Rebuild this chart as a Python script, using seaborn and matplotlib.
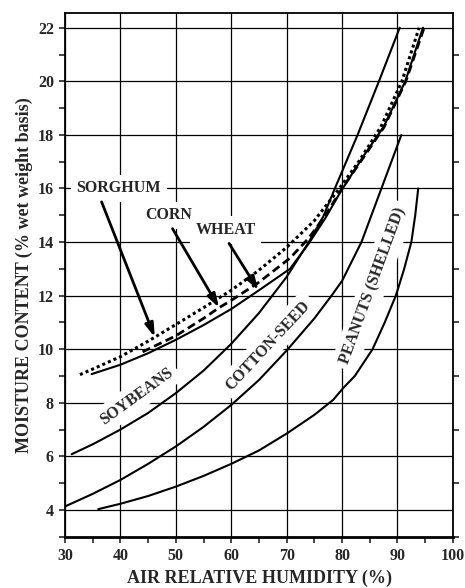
import numpy as np
import pandas as pd
import seaborn as sns
import matplotlib.pyplot as plt
from matplotlib.ticker import MultipleLocator

# ---- data ----
sorghum_rh = [32.7, 36, 40, 45, 50, 55, 60, 65, 70, 75, 79.5, 83, 87, 90.8, 93.9]
sorghum_mc = [9.05, 9.35, 9.72, 10.3, 10.92, 11.55, 12.2, 12.95, 13.8, 14.8, 16.0, 17.0, 18.3, 20.0, 22.0]

corn_rh = [44, 50, 55, 57.8, 60, 65, 70.6, 74, 77, 80, 84, 87.6, 91.5, 94.8]
corn_mc = [9.9, 10.5, 11.15, 11.55, 11.82, 12.5, 13.4, 14.15, 15.0, 16.0, 17.2, 18.3, 20.0, 22.0]

wheat_rh = [34.8, 40, 45, 50, 55, 60, 65, 70.6, 74, 77, 79.8, 84, 87.5, 91.4, 94.6]
wheat_mc = [9.07, 9.42, 9.85, 10.35, 10.9, 11.5, 12.2, 13.0, 13.95, 14.9, 15.9, 17.25, 18.3, 20.0, 22.0]

soy_rh = [31.2, 35, 40, 45, 50, 55, 60, 65, 70, 74, 76.6, 78.7, 82.8, 86.65, 90.4]
soy_mc = [6.08, 6.45, 7.0, 7.62, 8.36, 9.2, 10.2, 11.35, 12.7, 14.0, 14.95, 16.0, 18.0, 20.0, 22.0]

cotton_rh = [30, 35, 40, 45, 50, 55, 60, 65, 70, 75, 78.1, 80, 83.5, 87.1, 90.7]
cotton_mc = [4.13, 4.6, 5.12, 5.72, 6.37, 7.1, 7.92, 8.85, 9.95, 11.15, 12.0, 12.55, 14.0, 16.0, 18.0]

peanut_rh = [36, 40, 45, 50, 55, 60, 65, 70, 75, 78.4, 80.2, 82.3, 85.5, 87.7, 89.7, 91.15, 92.5, 93.2, 93.74]
peanut_mc = [4.03, 4.23, 4.52, 4.87, 5.27, 5.72, 6.22, 6.85, 7.55, 8.11, 8.55, 9.0, 10.0, 11.0, 12.0, 12.96, 14.0, 15.0, 16.0]

x_ticks = [30, 40, 50, 60, 70, 80, 90, 100]
y_ticks = [4, 6, 8, 10, 12, 14, 16, 18, 20, 22]

sns.set_style("white")
plt.rcParams['font.family'] = ['Liberation Serif', 'DejaVu Serif']
plt.rcParams['font.weight'] = 'bold'
plt.rcParams['font.size'] = 11.5

fig = plt.figure(figsize=(4.65, 5.88), dpi=100)
ax = fig.add_axes([0.1398, 0.0872, 0.8342, 0.8907])

series = [
    (sorghum_rh, sorghum_mc, (0, (1, 1)), 2.2),
    (corn_rh, corn_mc, (0, (3, 1.6)), 2.0),
    (wheat_rh, wheat_mc, '-', 1.5),
    (soy_rh, soy_mc, '-', 1.5),
    (cotton_rh, cotton_mc, '-', 1.5),
    (peanut_rh, peanut_mc, '-', 1.5),
]
for xs, ys, ls, lw in series:
    df = pd.DataFrame({'rh': xs, 'mc': ys})
    sns.lineplot(data=df, x='rh', y='mc', ax=ax, color='black', lw=lw,
                 sort=False, estimator=None)
    ax.lines[-1].set_linestyle(ls)
    ax.lines[-1].set_zorder(5)
    ax.lines[-1].set_solid_joinstyle('round')

ax.set_xlim(30, 100)
ax.set_ylim(3, 22.55)
ax.set_xticks(x_ticks)
ax.set_yticks(y_ticks)
ax.xaxis.set_minor_locator(MultipleLocator(5))
ax.yaxis.set_minor_locator(MultipleLocator(1))
ax.grid(True, which='major', color='black', lw=0.9, zorder=1)
ax.set_axisbelow(True)
ax.tick_params(which='major', direction='out', length=4, width=1.2,
               bottom=True, left=True, right=False, top=False, pad=4,
               labelsize=11.5)
ax.tick_params(which='minor', direction='out', length=4, width=1.2,
               bottom=True, left=True, right=True, top=False)
for lab in ax.get_xticklabels() + ax.get_yticklabels():
    lab.set_fontweight('bold')
for s in ax.spines.values():
    s.set_color('black')
    s.set_linewidth(1.3)
ax.spines['bottom'].set_linewidth(2.0)
ax.set_xlabel('')
ax.set_ylabel('')

fig.text(0.557, 0.017, 'AIR RELATIVE HUMIDITY (%)', ha='center', va='center',
         fontsize=13, fontweight='bold')
fig.text(0.052, 0.532, 'MOISTURE CONTENT (% wet weight basis)', ha='center',
         va='center', rotation=90, fontsize=13, fontweight='bold')

box = dict(boxstyle='square,pad=0.35', fc='white', ec='none')
texts = [
    ('SORGHUM', 39.7, 16.0, 0),
    ('CORN', 48.7, 15.0, 0),
    ('WHEAT', 59.0, 14.45, 0),
    ('SOYBEANS', 42.9, 8.23, 36),
    ('COTTON-SEED', 66.7, 10.13, 47),
    ('PEANUTS (SHELLED)', 85.6, 12.37, 70),
]
for t, x, y, r in texts:
    ax.text(x, y, t, ha='center', va='center', rotation=r, fontsize=11.5,
            fontweight='bold', bbox=box, zorder=3, rotation_mode='anchor')

arrows = [
    ((36.6, 15.5), (46.2, 10.45)),
    ((49.4, 14.5), (57.8, 11.55)),
    ((59.6, 13.95), (64.9, 12.2)),
]
for start, end in arrows:
    ax.annotate('', xy=end, xytext=start,
                arrowprops=dict(arrowstyle='-|>,head_length=0.7,head_width=0.22',
                                lw=2, color='black', shrinkA=0, shrinkB=0),
                zorder=4)

fig.savefig('out.png', dpi=100)
